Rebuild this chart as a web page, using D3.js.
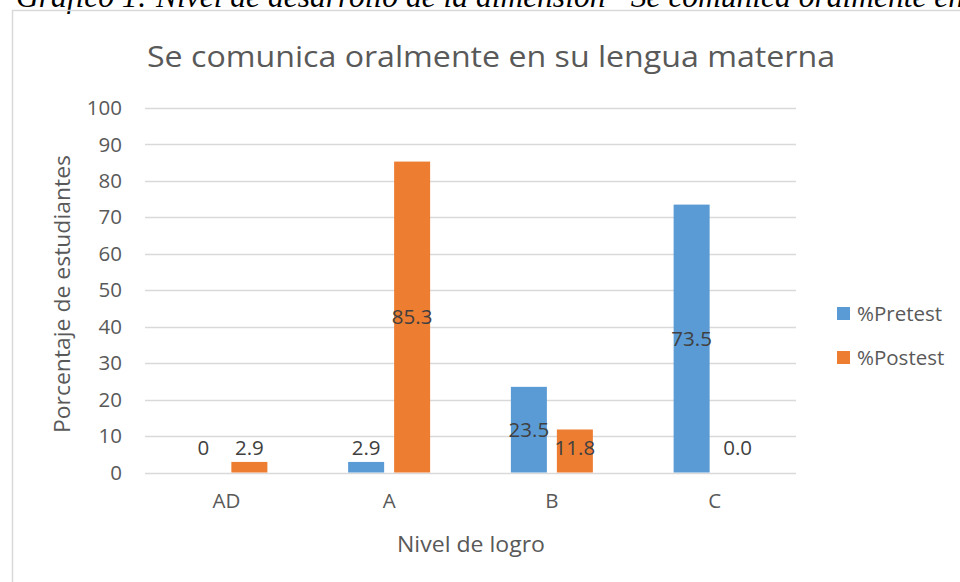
<!DOCTYPE html>
<html><head><meta charset="utf-8">
<script src="https://cdn.jsdelivr.net/npm/d3@7"></script>
<style>html,body{margin:0;padding:0;background:#fff;overflow:hidden}</style>
</head><body>
<svg id="c" width="960" height="582"></svg>
<script>
const categories = ["AD", "A", "B", "C"];
const seriesNames = ["%Pretest", "%Postest"];
const pretest = [0, 2.9, 23.5, 73.5];
const postest = [2.9, 85.3, 11.8, 0.0];
const pretestLabels = ["0", "2.9", "23.5", "73.5"];
const postestLabels = ["2.9", "85.3", "11.8", "0.0"];
const yTicks = [0, 10, 20, 30, 40, 50, 60, 70, 80, 90, 100];
const colors = ["#5b9bd5", "#ed7d31"];

const svg = d3.select("#c");
const font = "'Open Sans', 'Noto Sans', sans-serif";

// caption (partly clipped at top, as in the reference)
svg.append("text").attr("x", 16).attr("y", 7)
  .attr("font-family", "'Liberation Serif', serif").attr("font-style", "italic")
  .attr("font-size", 31.5).attr("fill", "#000")
  .text("Gráfico 1: Nivel de desarrollo de la dimensión “Se comunica oralmente en su lengua materna”");

// chart border
svg.append("path").attr("d", "M12.5,600 V10.5 H970")
  .attr("fill", "none").attr("stroke", "#d9d9d9").attr("stroke-width", 1.5);

const x0 = d3.scaleBand().domain(categories).range([145, 796]);
const inner = 82;
const x1 = d3.scaleBand().domain(seriesNames)
  .range([x0.bandwidth() / 2 - inner / 2, x0.bandwidth() / 2 + inner / 2]).paddingInner(0.217);
const y = d3.scaleLinear().domain([0, 100]).range([472.5, 108]);

// gridlines
svg.append("g").selectAll("line").data(yTicks).join("line")
  .attr("x1", 145).attr("x2", 796)
  .attr("y1", d => Math.round(y(d)) + 0.5).attr("y2", d => Math.round(y(d)) + 0.5)
  .attr("stroke", "#d9d9d9").attr("stroke-width", 1.3);

// y axis tick labels
const yAxis = d3.axisLeft(y).tickValues(yTicks).tickSize(0).tickPadding(0);
const gy = svg.append("g").attr("transform", "translate(122,0)").call(yAxis);
gy.select(".domain").remove();
gy.selectAll("text").attr("font-family", font).attr("font-size", 20.5).attr("fill", "#595959");

// x axis labels
const xAxis = d3.axisBottom(x0).tickSize(0).tickPadding(0);
const gx = svg.append("g").attr("transform", "translate(0,493)").call(xAxis);
gx.select(".domain").remove();
gx.selectAll("text").attr("font-family", font).attr("font-size", 20.5).attr("fill", "#595959");

const data = categories.map((c, i) => ({
  cat: c,
  vals: [
    { s: seriesNames[0], v: pretest[i], l: pretestLabels[i], k: 0 },
    { s: seriesNames[1], v: postest[i], l: postestLabels[i], k: 1 }
  ]
}));

const groups = svg.append("g").selectAll("g").data(data).join("g")
  .attr("transform", d => `translate(${x0(d.cat)},0)`);

groups.selectAll("rect").data(d => d.vals).join("rect")
  .attr("x", d => x1(d.s)).attr("width", x1.bandwidth())
  .attr("y", d => y(d.v)).attr("height", d => y(0) - y(d.v))
  .attr("fill", d => colors[d.k]);

groups.selectAll("text.lbl").data(d => d.vals).join("text").attr("class", "lbl")
  .attr("x", d => x1(d.s) + x1.bandwidth() / 2)
  .attr("y", d => Math.min((y(d.v) + y(0)) / 2, y(0) - 25))
  .attr("dy", "0.35em").attr("text-anchor", "middle")
  .attr("font-family", font).attr("font-size", 20.5).attr("fill", "#404040")
  .text(d => d.l);

// title
svg.append("text").attr("x", 491).attr("y", 67).attr("text-anchor", "middle")
  .attr("font-family", font).attr("font-size", 29).attr("fill", "#595959")
  .attr("textLength", 688).attr("lengthAdjust", "spacingAndGlyphs")
  .text("Se comunica oralmente en su lengua materna");

// axis titles
svg.append("text").attr("transform", "translate(70,294) rotate(-90)")
  .attr("text-anchor", "middle")
  .attr("font-family", font).attr("font-size", 21).attr("fill", "#595959")
  .attr("textLength", 278).attr("lengthAdjust", "spacingAndGlyphs")
  .text("Porcentaje de estudiantes");
svg.append("text").attr("x", 471).attr("y", 552).attr("text-anchor", "middle")
  .attr("font-family", font).attr("font-size", 21).attr("fill", "#595959")
  .attr("textLength", 148).attr("lengthAdjust", "spacingAndGlyphs")
  .text("Nivel de logro");

// legend
const lg = svg.append("g").selectAll("g").data(seriesNames).join("g")
  .attr("transform", (d, i) => `translate(837,${307 + i * 44})`);
lg.append("rect").attr("width", 13).attr("height", 13).attr("fill", (d, i) => colors[i]);
lg.append("text").attr("x", 20).attr("y", 6.5).attr("dy", "0.35em")
  .attr("font-family", font).attr("font-size", 20.5).attr("fill", "#595959")
  .text(d => d);
</script>
</body></html>
